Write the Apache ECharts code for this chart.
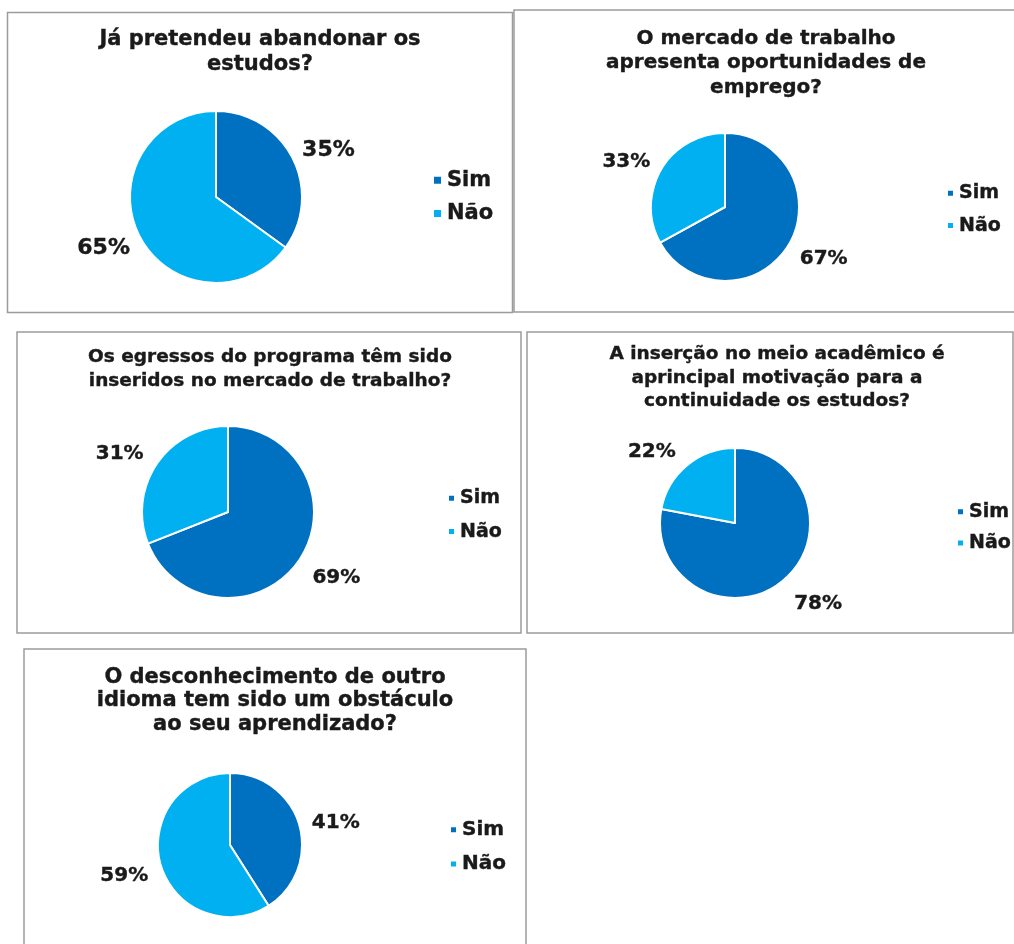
<!DOCTYPE html>
<html>
<head>
<meta charset="utf-8">
<script src="https://cdn.jsdelivr.net/npm/echarts@6/dist/echarts.min.js"></script>
<style>
  html, body { margin: 0; padding: 0; background: #ffffff; }
  #chart { width: 1014px; height: 944px; }
</style>
</head>
<body>
<div id="chart"></div>
<script>
// ---- Data ----
const categories = ['Sim', 'Não'];
const questions = [
  'Já pretendeu abandonar os\nestudos?',
  'O mercado de trabalho\napresenta oportunidades de\nemprego?',
  'Os egressos do programa têm sido\ninseridos no mercado de trabalho?',
  'A inserção no meio acadêmico é\naprincipal motivação para a\ncontinuidade os estudos?',
  'O desconhecimento de outro\nidioma tem sido um obstáculo\nao seu aprendizado?'
];
const simValues = [35, 67, 69, 78, 41];
const naoValues = [65, 33, 31, 22, 59];

// ---- Styling / layout ----
const colors = ['#0070C0', '#00B0F0'];
const FONT = 'DejaVu Sans';
const INK = '#1a1a1a';
const panels = [
  { box: [7.5, 12.5, 505, 300],  center: [216, 197], r: 86, L: 5, up: -5, down: 10,
    title: { x: 260, top: 27.5, size: 21, lh: 25 }, lab: 22,
    legend: { left: 432, top: 169.5, size: 21, icon: 9, gap: 12 } },
  { box: [514, 10, 520, 302],    center: [725, 207], r: 74, L: 7, up: -4, down: 11,
    title: { x: 766, top: 26.5, size: 20, lh: 24.5 }, lab: 20,
    legend: { left: 946, top: 183.5, size: 19, icon: 7, gap: 13 } },
  { box: [17, 332, 504, 301],    center: [228, 512], r: 86, L: 10, up: -4, down: 12,
    title: { x: 270, top: 345.5, size: 18.5, lh: 23.5 }, lab: 20,
    legend: { left: 447, top: 488.5, size: 19, icon: 7, gap: 14 } },
  { box: [527, 332, 486, 301],   center: [735, 523], r: 75, L: 10, up: -6, down: 15,
    title: { x: 777, top: 342.5, size: 18.5, lh: 23.5 }, lab: 20,
    legend: { left: 956, top: 502, size: 19, icon: 7, gap: 12 } },
  { box: [24, 649, 502, 320],    center: [230, 845], r: 72, L: 8, up: 0, down: 8,
    title: { x: 275, top: 665.5, size: 21, lh: 23.5 }, lab: 20,
    legend: { left: 449, top: 819.5, size: 20, icon: 7, gap: 14 } }
];

const chart = echarts.init(document.getElementById('chart'), null, { renderer: 'canvas' });

const option = {
  animation: false,
  color: colors,
  graphic: panels.map(p => ({
    type: 'rect',
    shape: { x: p.box[0], y: p.box[1], width: p.box[2], height: p.box[3] },
    style: { fill: 'none', stroke: '#9c9c9c', lineWidth: 1.5 },
    z: -1
  })),
  title: panels.map((p, i) => ({
    text: questions[i],
    left: p.title.x,
    top: p.title.top,
    textAlign: 'center',
    padding: 0,
    textStyle: {
      fontFamily: FONT, fontWeight: 'bold', fontSize: p.title.size,
      lineHeight: p.title.lh, color: INK,
      textBorderColor: INK, textBorderWidth: 0.4
    }
  })),
  legend: panels.map(p => ({
    data: categories,
    orient: 'vertical',
    left: p.legend.left,
    top: p.legend.top,
    padding: 0,
    itemGap: p.legend.gap,
    itemWidth: p.legend.icon,
    itemHeight: p.legend.icon,
    icon: 'rect',
    selectedMode: false,
    textStyle: {
      fontFamily: FONT, fontWeight: 'bold', fontSize: p.legend.size, color: INK,
      textBorderColor: INK, textBorderWidth: 0.4
    }
  })),
  series: panels.map((p, i) => ({
    type: 'pie',
    center: p.center,
    radius: p.r,
    startAngle: 90,
    clockwise: true,
    avoidLabelOverlap: false,
    itemStyle: { borderColor: '#ffffff', borderWidth: 2 },
    label: {
      show: true,
      position: 'outside',
      formatter: '{c}%',
      fontFamily: FONT, fontWeight: 'bold', fontSize: p.lab, color: INK,
      textBorderColor: INK, textBorderWidth: 0.4
    },
    labelLine: { show: false, length: p.L, length2: 0 },
    labelLayout: function (params) {
      const lr = params.labelRect;
      const below = lr.y + lr.height / 2 > p.center[1];
      return { dy: below ? p.down : p.up };
    },
    emphasis: { disabled: true },
    data: categories.map((c, k) => ({ name: c, value: k === 0 ? simValues[i] : naoValues[i] }))
  }))
};

chart.setOption(option);
</script>
</body>
</html>
